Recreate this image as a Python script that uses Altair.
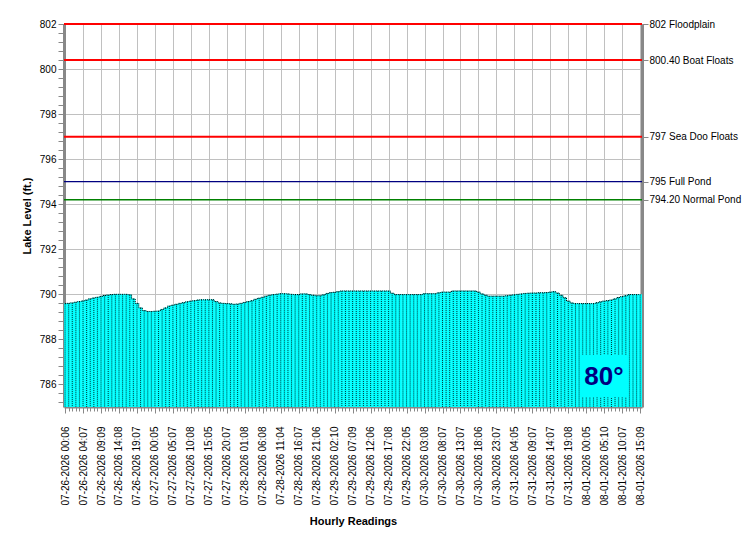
import altair as alt
import pandas as pd

# Lake level, one value per hourly reading (ft.)
levels = [
    789.59, 789.60, 789.62, 789.65, 789.68, 789.71, 789.75, 789.80, 789.84, 789.87,
    789.91, 789.95, 789.97, 789.99, 790.00, 790.00, 790.00, 790.00, 789.98, 789.80,
    789.60, 789.40, 789.28, 789.24, 789.24, 789.25, 789.26, 789.33, 789.40, 789.48,
    789.52, 789.56, 789.60, 789.63, 789.67, 789.70, 789.72, 789.75, 789.76, 789.76,
    789.76, 789.76, 789.68, 789.62, 789.60, 789.59, 789.58, 789.56, 789.57, 789.60,
    789.64, 789.68, 789.72, 789.78, 789.83, 789.87, 789.92, 789.96, 789.99, 790.01,
    790.03, 790.03, 790.02, 790.00, 789.99, 789.99, 790.02, 790.02, 789.99, 789.96,
    789.94, 789.94, 789.98, 790.04, 790.08, 790.09, 790.12, 790.15, 790.15, 790.15,
    790.15, 790.15, 790.15, 790.15, 790.15, 790.15, 790.15, 790.15, 790.15, 790.15,
    790.15, 790.05, 789.99, 789.99, 789.99, 789.99, 789.99, 789.99, 789.99, 789.99,
    790.03, 790.03, 790.03, 790.03, 790.07, 790.10, 790.10, 790.10, 790.15, 790.15,
    790.15, 790.15, 790.15, 790.15, 790.15, 790.10, 790.02, 789.96, 789.92, 789.92,
    789.92, 789.92, 789.92, 789.94, 789.96, 789.98, 790.00, 790.02, 790.04, 790.05,
    790.06, 790.06, 790.07, 790.07, 790.08, 790.10, 790.12, 790.06, 789.96, 789.85,
    789.70, 789.62, 789.59, 789.59, 789.59, 789.59, 789.59, 789.59, 789.63, 789.67,
    789.70, 789.72, 789.75, 789.80, 789.86, 789.90, 789.94, 789.99, 789.99, 789.99,
    789.99,
]

# Labels shown for every fifth reading
tick_labels = [
    "07-26-2026 00:06", "07-26-2026 04:07", "07-26-2026 09:09", "07-26-2026 14:08", "07-26-2026 19:07",
    "07-27-2026 00:05", "07-27-2026 05:07", "07-27-2026 10:08", "07-27-2026 15:05", "07-27-2026 20:07",
    "07-28-2026 01:08", "07-28-2026 06:08", "07-28-2026 11:04", "07-28-2026 16:07", "07-28-2026 21:06",
    "07-29-2026 02:10", "07-29-2026 07:09", "07-29-2026 12:06", "07-29-2026 17:08", "07-29-2026 22:05",
    "07-30-2026 03:08", "07-30-2026 08:07", "07-30-2026 13:07", "07-30-2026 18:06", "07-30-2026 23:07",
    "07-31-2026 04:05", "07-31-2026 09:07", "07-31-2026 14:07", "07-31-2026 19:08",
    "08-01-2026 00:05", "08-01-2026 05:10", "08-01-2026 10:07", "08-01-2026 15:09",
]

ref_values = [802, 800.4, 797, 795, 794.2]
ref_names = ["802 Floodplain", "800.40 Boat Floats", "797 Sea Doo Floats",
             "795 Full Pond", "794.20 Normal Pond"]
ref_colors = ["#ff0000", "#ff0000", "#ff0000", "#000080", "#008000"]
thick_names = ref_names[:3]

temperature = ["80°"]

FONT = "Liberation Sans"
YDOM = [785, 802]
XDOM = [-0.3, 160.5]
BASE = 785

df = pd.DataFrame({"idx": list(range(len(levels))), "level": levels})
ref = pd.DataFrame({"value": ref_values, "name": ref_names})
temp_df = pd.DataFrame({"temp": temperature})

label_js = "[" + ",".join("'" + t + "'" for t in tick_labels) + "]"
major_x = "datum.value % 5 == 0"

x_axis = alt.Axis(
    values=list(range(len(levels))),
    labelExpr=f"{major_x} ? {label_js}[datum.value / 5] : ''",
    labelAngle=270,
    labelOverlap=False,
    labelFlush=False,
    labelPadding=13,
    tickSize={"condition": {"test": major_x, "value": 6}, "value": 4},
    grid=True,
    gridColor="#c0c0c0",
    gridOpacity={"condition": {"test": major_x, "value": 1}, "value": 0},
    domainWidth=2,
    titlePadding=11,
)

y_values = [round(802 - 0.4 * k, 1) for k in range(43)]
major_y = "abs(datum.value - round(datum.value / 2) * 2) < 0.01"
y_axis_left = alt.Axis(
    values=y_values,
    labelExpr=f"{major_y} ? format(datum.value, 'd') : ''",
    labelOverlap=False,
    tickSize=6,
    labelPadding=2,
    domainWidth=3,
    grid=True,
    gridColor="#c0c0c0",
    gridOpacity={"condition": {"test": major_y, "value": 1}, "value": 0},
    titlePadding=7,
)

right_expr = " : ".join(
    f"abs(datum.value - {v}) < 0.01 ? '{n}'" for v, n in zip(ref_values, ref_names)
) + " : ''"
y_axis_right = alt.Axis(
    orient="right",
    values=ref_values,
    labelExpr=right_expr,
    labelOverlap=False,
    labelFlush=False,
    tickSize=6,
    labelPadding=1,
    domainWidth=3,
    grid=False,
    title=None,
)

xs = alt.Scale(domain=XDOM, nice=False, zero=False)
ys = alt.Scale(domain=YDOM, nice=False, zero=False)
color_scale = alt.Scale(domain=ref_names, range=ref_colors)

bars = alt.Chart(df).transform_calculate(
    x0="datum.idx - 0.5", x1="datum.idx + 0.5", base=str(BASE)
).mark_bar(color="#00ffff", stroke="#00ffff", strokeWidth=0.5, clip=True).encode(
    x=alt.X("x0:Q", scale=xs, axis=x_axis, title="Hourly Readings"),
    x2="x1:Q",
    y=alt.Y("level:Q", scale=ys, axis=y_axis_left, title="Lake Level (ft.)"),
    y2="base:Q",
)

dots = alt.Chart(df).transform_calculate(base=str(BASE)).mark_rule(
    color="black", strokeDash=[1, 1], strokeWidth=0.8, clip=True
).encode(
    x=alt.X("idx:Q", scale=xs, axis=x_axis, title="Hourly Readings"),
    y=alt.Y("level:Q", scale=ys, axis=None),
    y2="base:Q",
)

top = alt.Chart(df).mark_line(
    color="black", strokeDash=[1, 1], strokeWidth=1, interpolate="step", clip=True
).encode(
    x=alt.X("idx:Q", scale=xs, axis=x_axis, title="Hourly Readings"),
    y=alt.Y("level:Q", scale=ys, axis=None),
)

refs_axis = alt.Chart(ref).mark_rule(opacity=0).encode(
    y=alt.Y("value:Q", scale=ys, axis=y_axis_right),
)

refs_thick = alt.Chart(ref).transform_filter(
    alt.FieldOneOfPredicate(field="name", oneOf=thick_names)
).mark_rule(strokeWidth=2).encode(
    y=alt.Y("value:Q", scale=ys, axis=None),
    color=alt.Color("name:N", scale=color_scale, legend=None),
)

refs_thin = alt.Chart(ref).transform_filter(
    ~alt.FieldOneOfPredicate(field="name", oneOf=thick_names)
).mark_rule(strokeWidth=1.3).encode(
    y=alt.Y("value:Q", scale=ys, axis=None),
    color=alt.Color("name:N", scale=color_scale, legend=None),
)

box = alt.Chart(temp_df).mark_rect(color="#00ffff").encode(
    x=alt.value(516), x2=alt.value(564), y=alt.value(331), y2=alt.value(373)
)
text = alt.Chart(temp_df).mark_text(
    font=FONT, fontSize=26, fontWeight="bold", color="#000080",
    align="center", baseline="middle"
).encode(x=alt.value(540), y=alt.value(353), text="temp:N")

chart = alt.layer(bars, dots, top, refs_axis, refs_thick, refs_thin, box, text).resolve_scale(
    y="independent"
).properties(
    width=578, height=383,
    padding={"left": 56, "top": 16, "right": 100, "bottom": 120},
    autosize="none",
).configure_view(
    stroke="black", strokeWidth=1
).configure_axis(
    labelFont=FONT, labelFontSize=11, labelColor="black",
    titleFont=FONT, titleFontSize=11, titleFontWeight="bold", titleColor="black",
    tickColor="black", domainColor="black",
).configure(background="white")

chart.save("out.html", embed_options={"renderer": "svg", "actions": False})
